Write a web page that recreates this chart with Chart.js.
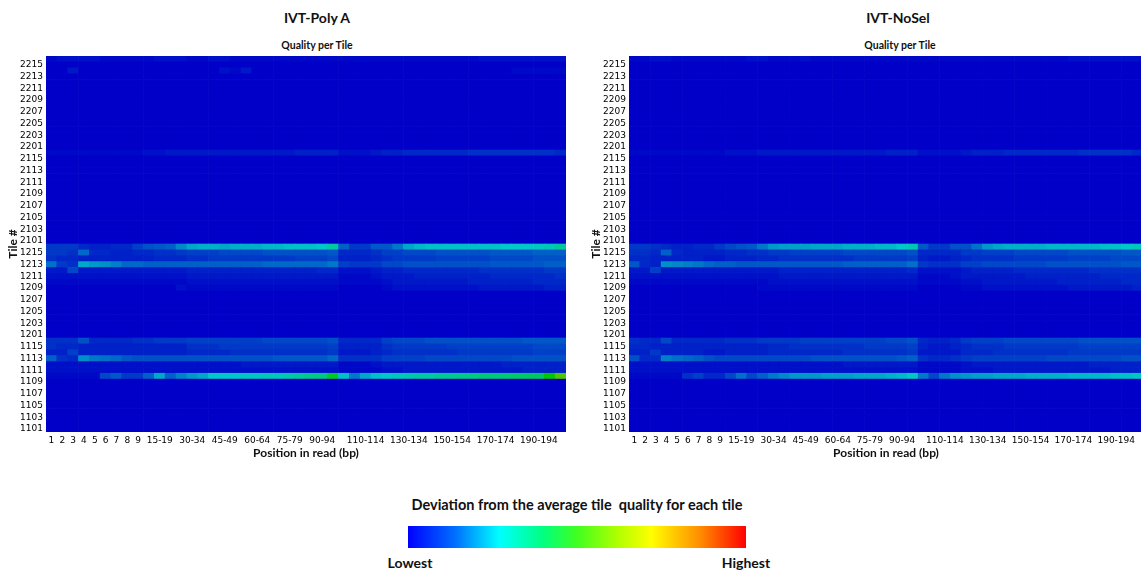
<!DOCTYPE html>
<html>
<head>
<meta charset="utf-8">
<script src="https://cdn.jsdelivr.net/npm/chart.js@4.4.1/dist/chart.umd.min.js"></script>
<style>
  html, body { margin: 0; padding: 0; background: #fff; overflow: hidden; }
  body { width: 1141px; height: 572px; position: relative; font-family: Lato, "Open Sans", sans-serif; }
  .box { position: absolute; }
  .txt { position: absolute; text-align: center; font-weight: bold; color: #111; white-space: pre; }
  .title { font-size: 14px; line-height: 20px; width: 200px; }
  .sub { font-size: 10.5px; line-height: 14px; width: 200px; }
  #colorbar {
    position: absolute; left: 408px; top: 526px; width: 338px; height: 22px;
    background: linear-gradient(to right, #0000ff 0%, #0070ff 14%, #00ffff 27%, #00ff80 40%, #40ff20 50%, #b0ff00 62%, #ffff00 72%, #ff9000 86%, #ff0000 100%);
  }
</style>
</head>
<body>

<div class="txt title" style="left:217px; top:8px;">IVT-Poly A</div>
<div class="txt sub" style="left:217px; top:38px;">Quality per Tile</div>
<div class="txt title" style="left:798px; top:8px;">IVT-NoSel</div>
<div class="txt sub" style="left:800px; top:38px;">Quality per Tile</div>

<div class="box" style="left:0; top:0; width:570px; height:470px;"><canvas id="polyA"></canvas></div>
<div class="box" style="left:583px; top:0; width:560px; height:470px;"><canvas id="noSel"></canvas></div>

<div class="txt" style="left:277px; top:495px; width:600px; font-size:14.5px; line-height:20px;">Deviation from the average tile  quality for each tile</div>
<div id="colorbar"></div>
<div class="txt" style="left:360px; top:553px; width:100px; font-size:14px; line-height:20px;">Lowest</div>
<div class="txt" style="left:696px; top:553px; width:100px; font-size:14px; line-height:20px;">Highest</div>

<script>
// tiles, bottom to top
const tiles = [
  '1101','1102','1103','1104','1105','1106','1107','1108','1109','1110','1111','1112','1113','1114','1115','1116',
  '1201','1202','1203','1204','1205','1206','1207','1208','1209','1210','1211','1212','1213','1214','1215','1216',
  '2101','2102','2103','2104','2105','2106','2107','2108','2109','2110','2111','2112','2113','2114','2115','2116',
  '2201','2202','2203','2204','2205','2206','2207','2208','2209','2210','2211','2212','2213','2214','2215','2216'
];

const positions = [
  '1','2','3','4','5','6','7','8','9','10-14','15-19','20-24','25-29','30-34','35-39','40-44','45-49',
  '50-54','55-59','60-64','65-69','70-74','75-79','80-84','85-89','90-94','95-99','100-104','105-109',
  '110-114','115-119','120-124','125-129','130-134','135-139','140-144','145-149','150-154','155-159',
  '160-164','165-169','170-174','175-179','180-184','185-189','190-194','195-199','200'
];

const shownPositions = ['1','2','3','4','5','6','7','8','9','15-19','30-34','45-49','60-64','75-79','90-94',
  '110-114','130-134','150-154','170-174','190-194'];

// deviation per tile (0 = lowest, 1 = highest); tiles not listed read as flat 0
const flatRow = positions.map(() => 0);

// IVT-Poly A
const polyA2216 = [.01,.02,.02,.02,.02,.01,.01,.01,.01, .01,.02,.02,.02,.01,.01,.02,.02,.01, .01,.01,.01,.01,.01,.01,.01,.01,.01, .01,.01,.01,.01,.01,.01,.01,.01,.01, .01,.01,.01,.01,.02,.02,.02,.02,.02,.02,.02,.02];
const polyA2214 = [0,0,.03,0,0,0,0,0,0, 0,0,0,0,0,0,0,.02,.01, .03,0,0,0,0,0,0,0,0, 0,0,0,0,0,0,0,0,0, 0,0,0,0,0,0,0,.01,.01,.01,.01,.01];
const polyA2116 = [.01,.01,.01,.01,.01,.01,.01,.01,.01, .02,.02,.03,.03,.03,.03,.03,.03,.03, .03,.03,.03,.03,.03,.04,.04,.04,.04, .02,.02,.02,.03,.04,.04,.05,.05,.05, .05,.05,.05,.06,.06,.06,.06,.06,.06,.06,.06,.05];
const polyA1216 = [.07,.07,.07,.05,.04,.04,.05,.05,.08, .10,.11,.12,.17,.21,.22,.22,.21,.22, .22,.22,.23,.23,.24,.24,.24,.25,.30, .12,.07,.07,.11,.11,.15,.21,.23,.24, .24,.24,.24,.24,.24,.24,.25,.25,.25,.26,.27,.31];
const polyA1215 = [.07,.07,.06,.13,.05,.05,.04,.04,.05, .05,.06,.06,.07,.08,.08,.08,.09,.09, .09,.09,.10,.10,.10,.10,.10,.10,.11, .05,.05,.05,.06,.08,.08,.09,.09,.09, .10,.10,.10,.10,.10,.11,.11,.11,.11,.12,.12,.12];
const polyA1214 = [.06,.05,.05,.04,.04,.04,.04,.04,.04, .04,.05,.05,.05,.06,.06,.07,.07,.07, .07,.07,.07,.07,.07,.08,.08,.08,.09, .04,.04,.04,.05,.06,.07,.07,.07,.07, .08,.08,.08,.08,.08,.09,.09,.09,.09,.10,.10,.10];
const polyA1213 = [.14,.07,.06,.21,.19,.18,.16,.13,.13, .12,.12,.12,.12,.12,.12,.12,.12,.12, .12,.12,.13,.13,.13,.13,.13,.13,.15, .08,.07,.07,.07,.09,.09,.10,.10,.10, .10,.10,.10,.10,.10,.11,.11,.11,.11,.11,.12,.12];
const polyA1212 = [.03,.03,.09,.03,.03,.03,.03,.03,.03, .03,.03,.03,.03,.04,.04,.04,.04,.04, .04,.04,.04,.04,.04,.04,.04,.05,.05, .02,.02,.02,.03,.04,.04,.05,.05,.05, .05,.05,.05,.05,.06,.06,.06,.06,.06,.06,.07,.07];
const polyA1211 = [.02,.02,.02,.02,.02,.02,.02,.02,.02, .02,.02,.02,.02,.03,.03,.03,.03,.03, .03,.03,.03,.03,.03,.03,.03,.03,.03, .01,.01,.01,.02,.03,.03,.03,.04,.04, .04,.04,.04,.04,.04,.05,.05,.05,.05,.05,.05,.06];
const polyA1210 = [.01,.01,.01,.01,.01,.01,.01,.01,.01, .01,.01,.01,.01,.02,.02,.02,.02,.02, .02,.02,.02,.02,.02,.02,.02,.02,.02, .01,.01,.01,.01,.02,.03,.03,.03,.03, .03,.03,.03,.04,.04,.04,.04,.04,.04,.05,.05,.05];
const polyA1209 = [0,0,0,0,0,0,0,0,0, 0,0,0,.02,.01,.01,.01,.01,.01, .01,.01,.01,.01,.01,.01,.01,.01,.01, 0,0,0,0,.01,.02,.02,.02,.02, .02,.02,.02,.02,.03,.03,.03,.03,.03,.03,.04,.04];
const polyA1116 = [.06,.06,.06,.10,.05,.05,.05,.05,.06, .06,.07,.07,.07,.08,.08,.08,.08,.08, .08,.08,.09,.09,.09,.09,.09,.09,.10, .05,.05,.05,.05,.08,.09,.09,.09,.10, .10,.10,.10,.10,.10,.10,.10,.10,.11,.11,.11,.11];
const polyA1115 = [.06,.05,.05,.04,.04,.04,.04,.04,.04, .04,.04,.04,.04,.06,.06,.06,.07,.07, .07,.07,.07,.07,.07,.07,.07,.07,.08, .04,.04,.04,.04,.06,.07,.07,.07,.07, .07,.08,.08,.08,.08,.08,.08,.08,.08,.09,.09,.09];
const polyA1114 = [.04,.04,.08,.04,.04,.04,.04,.04,.04, .04,.04,.04,.04,.05,.05,.05,.05,.06, .06,.06,.06,.06,.06,.06,.06,.06,.07, .03,.03,.03,.04,.05,.06,.06,.06,.06, .06,.06,.07,.07,.07,.07,.07,.07,.07,.08,.08,.08];
const polyA1113 = [.12,.06,.05,.18,.15,.14,.13,.11,.10, .10,.10,.10,.10,.10,.10,.10,.10,.10, .10,.10,.10,.11,.11,.11,.11,.11,.13, .06,.06,.06,.06,.08,.08,.08,.08,.09, .09,.09,.09,.09,.09,.09,.09,.10,.10,.10,.10,.10];
const polyA1112 = [.02,.02,.02,.02,.02,.02,.02,.02,.02, .02,.02,.02,.02,.02,.02,.02,.02,.02, .03,.03,.03,.03,.03,.03,.03,.03,.03, .01,.01,.01,.02,.03,.03,.03,.03,.03, .03,.03,.03,.03,.03,.03,.04,.04,.04,.04,.04,.04];
const polyA1111 = [.02,.02,.02,.02,.02,.02,.02,.02,.02, .02,.02,.02,.02,.02,.02,.02,.02,.02, .02,.02,.02,.02,.02,.02,.02,.02,.02, .01,.01,.01,.01,.02,.02,.03,.03,.03, .03,.03,.03,.03,.03,.03,.03,.03,.04,.04,.04,.04];
const polyA1110 = [.01,.01,.01,.01,.01,.09,.11,.07,.07, .12,.21,.12,.16,.19,.21,.25,.25,.25, .26,.26,.27,.27,.29,.31,.33,.34,.45, .24,.15,.21,.24,.25,.27,.28,.30,.30, .32,.32,.33,.34,.35,.35,.36,.37,.38,.38,.50,.60];

// IVT-NoSel
const noSel2216 = [.01,.01,.02,.02,.01,.01,.01,.01,.01, .01,.01,.02,.02,.01,.01,.01,.02,.01, .01,.01,.01,.01,.01,.01,.01,.01,.01, .01,.01,.01,.01,.01,.01,.01,.01,.01, .01,.01,.01,.01,.01,.02,.02,.02,.02,.02,.02,.02];
const noSel2116 = [.01,.01,.01,.01,.01,.01,.01,.01,.01, .02,.02,.02,.03,.03,.03,.03,.03,.03, .03,.03,.03,.03,.03,.03,.04,.04,.04, .02,.02,.02,.02,.03,.04,.04,.04,.05, .05,.05,.05,.05,.05,.05,.06,.06,.06,.06,.06,.05];
const noSel1216 = [.07,.07,.06,.05,.04,.04,.05,.05,.07, .09,.10,.11,.15,.19,.20,.20,.20,.21, .21,.21,.22,.22,.22,.23,.23,.25,.28, .11,.07,.07,.10,.10,.14,.19,.21,.22, .22,.22,.22,.23,.23,.23,.23,.23,.24,.24,.25,.27];
const noSel1215 = [.06,.06,.05,.12,.05,.04,.04,.04,.04, .05,.05,.06,.06,.07,.07,.08,.08,.08, .08,.08,.09,.09,.09,.09,.09,.09,.10, .05,.05,.05,.05,.07,.07,.08,.08,.08, .09,.09,.09,.09,.09,.10,.10,.10,.10,.10,.11,.11];
const noSel1214 = [.05,.05,.04,.04,.04,.04,.04,.03,.03, .04,.04,.04,.05,.05,.06,.06,.06,.06, .06,.06,.06,.07,.07,.07,.07,.07,.08, .04,.03,.03,.04,.05,.06,.06,.06,.06, .07,.07,.07,.07,.07,.08,.08,.08,.08,.09,.09,.09];
const noSel1213 = [.11,.05,.04,.18,.17,.16,.15,.13,.12, .12,.11,.11,.11,.11,.11,.11,.11,.11, .11,.11,.12,.12,.12,.12,.12,.12,.14, .07,.06,.06,.06,.08,.08,.09,.09,.09, .09,.09,.09,.10,.10,.10,.10,.10,.10,.10,.11,.11];
const noSel1212 = [.03,.03,.08,.03,.03,.03,.03,.03,.03, .03,.03,.03,.03,.03,.04,.04,.04,.04, .04,.04,.04,.04,.04,.04,.04,.04,.05, .02,.02,.02,.02,.03,.04,.04,.04,.04, .05,.05,.05,.05,.05,.05,.05,.06,.06,.06,.06,.06];
const noSel1211 = [.02,.02,.02,.02,.02,.02,.02,.02,.02, .02,.02,.02,.02,.02,.03,.03,.03,.03, .03,.03,.03,.03,.03,.03,.03,.03,.03, .01,.01,.01,.02,.03,.03,.03,.03,.03, .03,.04,.04,.04,.04,.04,.04,.04,.05,.05,.05,.05];
const noSel1210 = [.01,.01,.01,.01,.01,.01,.01,.01,.01, .01,.01,.01,.01,.02,.02,.02,.02,.02, .02,.02,.02,.02,.02,.02,.02,.02,.02, .01,.01,.01,.01,.02,.02,.03,.03,.03, .03,.03,.03,.03,.04,.04,.04,.04,.04,.04,.05,.05];
const noSel1209 = [0,0,0,0,0,0,0,0,0, 0,0,0,.01,.01,.01,.01,.01,.01, .01,.01,.01,.01,.01,.01,.01,.01,.01, 0,0,0,0,.01,.01,.02,.02,.02, .02,.02,.02,.02,.02,.03,.03,.03,.03,.03,.03,.04];
const noSel1116 = [.06,.05,.05,.09,.05,.05,.05,.05,.05, .06,.06,.06,.07,.07,.07,.07,.08,.08, .08,.08,.08,.08,.08,.08,.09,.09,.10, .05,.04,.04,.05,.07,.08,.08,.08,.09, .09,.09,.09,.09,.09,.09,.10,.10,.10,.10,.10,.10];
const noSel1115 = [.05,.05,.04,.04,.04,.04,.04,.04,.04, .04,.04,.04,.04,.05,.05,.06,.06,.06, .06,.06,.06,.06,.07,.07,.07,.07,.08, .04,.03,.03,.04,.05,.06,.06,.06,.07, .07,.07,.07,.07,.07,.07,.08,.08,.08,.08,.08,.08];
const noSel1114 = [.04,.04,.07,.04,.04,.04,.04,.03,.03, .04,.04,.04,.04,.05,.05,.05,.05,.05, .05,.05,.06,.06,.06,.06,.06,.06,.07, .03,.03,.03,.03,.05,.05,.05,.06,.06, .06,.06,.06,.06,.06,.07,.07,.07,.07,.07,.07,.07];
const noSel1113 = [.10,.05,.05,.16,.14,.13,.12,.10,.09, .09,.09,.09,.09,.09,.09,.09,.09,.10, .10,.10,.10,.10,.10,.10,.10,.11,.12, .06,.05,.05,.06,.07,.08,.08,.08,.08, .08,.08,.08,.09,.09,.09,.09,.09,.09,.09,.10,.10];
const noSel1112 = [.02,.02,.02,.02,.02,.02,.02,.02,.02, .02,.02,.02,.02,.02,.02,.02,.02,.02, .02,.02,.03,.03,.03,.03,.03,.03,.03, .01,.01,.01,.01,.02,.03,.03,.03,.03, .03,.03,.03,.03,.03,.03,.03,.04,.04,.04,.04,.04];
const noSel1111 = [.02,.02,.02,.02,.02,.02,.02,.02,.02, .02,.02,.02,.02,.02,.02,.02,.02,.02, .02,.02,.02,.02,.02,.02,.02,.02,.02, .01,.01,.01,.01,.02,.02,.02,.03,.03, .03,.03,.03,.03,.03,.03,.03,.03,.03,.04,.04,.04];
const noSel1110 = [.01,.01,.01,.01,.01,.06,.08,.05,.05, .09,.14,.09,.12,.15,.17,.19,.19,.19, .20,.20,.20,.21,.21,.21,.22,.23,.26, .15,.09,.15,.18,.19,.20,.20,.21,.21, .21,.22,.22,.22,.22,.23,.23,.23,.23,.24,.24,.26];

const polyARows = {
  '2216': polyA2216, '2214': polyA2214, '2116': polyA2116,
  '1216': polyA1216, '1215': polyA1215, '1214': polyA1214, '1213': polyA1213, '1212': polyA1212,
  '1211': polyA1211, '1210': polyA1210, '1209': polyA1209,
  '1116': polyA1116, '1115': polyA1115, '1114': polyA1114, '1113': polyA1113, '1112': polyA1112,
  '1111': polyA1111, '1110': polyA1110
};
const noSelRows = {
  '2216': noSel2216, '2116': noSel2116,
  '1216': noSel1216, '1215': noSel1215, '1214': noSel1214, '1213': noSel1213, '1212': noSel1212,
  '1211': noSel1211, '1210': noSel1210, '1209': noSel1209,
  '1116': noSel1116, '1115': noSel1115, '1114': noSel1114, '1113': noSel1113, '1112': noSel1112,
  '1111': noSel1111, '1110': noSel1110
};

// FastQC style hot/cold colours
function heatColour(v) {
  let r, g, b;
  if (v < 0.25) { r = 0; g = 800 * v; b = 200; }
  else if (v < 0.5) { r = 0; g = 200; b = 200 - 800 * (v - 0.25); }
  else if (v < 0.75) { r = 800 * (v - 0.5); g = 200; b = 0; }
  else { r = 200; g = 200 - 800 * (v - 0.75); b = 0; }
  return 'rgb(' + Math.round(r) + ',' + Math.round(g) + ',' + Math.round(b) + ')';
}

function buildDatasets(rows) {
  return tiles.map(function (tile) {
    const values = rows[tile] || flatRow;
    return {
      label: tile,
      data: positions.map(() => 1), // each tile is one row of the grid
      backgroundColor: values.map(heatColour),
      borderWidth: 0,
      categoryPercentage: 1,
      barPercentage: 1
    };
  });
}

const tickFont = { family: 'DejaVu Sans', size: 9 };
const titleFont = { family: 'Lato', size: 12, weight: 'bold' };

function makeTileChart(id) {
  const rows = id === 'polyA' ? polyARows : noSelRows;
  return new Chart(document.getElementById(id), {
    type: 'bar',
    data: { labels: positions, datasets: buildDatasets(rows) },
    options: {
      responsive: true,
      maintainAspectRatio: false,
      animation: false,
      layout: { padding: { top: 56, right: id === 'polyA' ? 4 : 0, bottom: 0, left: 0 } },
      plugins: { legend: { display: false }, tooltip: { enabled: false } },
      scales: {
        x: {
          stacked: true,
          grid: { display: false, drawTicks: false },
          border: { display: false },
          ticks: {
            autoSkip: false, maxRotation: 0, minRotation: 0, padding: 3,
            color: '#000', font: tickFont,
            callback: function (v) {
              const label = this.getLabelForValue(v);
              return shownPositions.includes(label) ? label : '';
            }
          },
          title: { display: true, text: 'Position in read (bp)', color: '#111', font: titleFont, padding: { top: 0, bottom: 10 } },
          afterFit: function (scale) { scale.height = 38; }
        },
        y: {
          stacked: true,
          min: 0,
          max: tiles.length,
          grid: { display: false, drawTicks: false },
          border: { display: false },
          ticks: {
            autoSkip: false, padding: 3, color: '#000', font: tickFont,
            callback: (v) => tiles[v - 0.5]
          },
          afterBuildTicks: function (scale) {
            scale.ticks = tiles.filter((t, i) => i % 2 === 0).map((t, k) => ({ value: k * 2 + 0.5 }));
          },
          title: { display: true, text: 'Tile #', color: '#111', font: titleFont, padding: { top: 6, bottom: 0 } },
          afterFit: function (scale) { scale.width = 46; }
        }
      }
    }
  });
}

makeTileChart('polyA');
makeTileChart('noSel');
</script>
</body>
</html>
